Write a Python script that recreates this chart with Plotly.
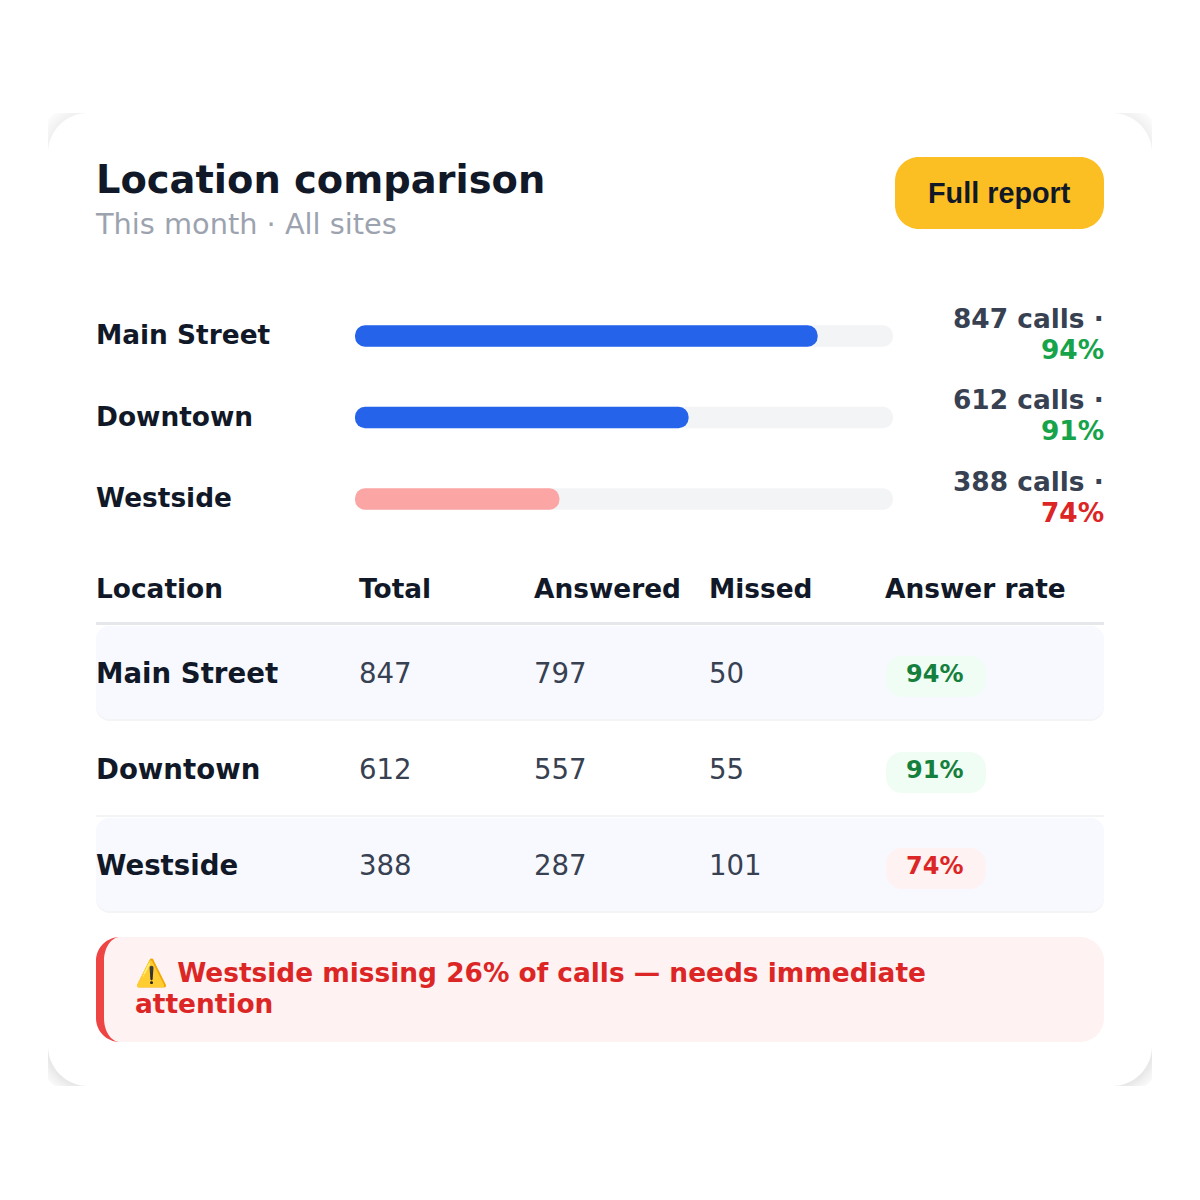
import math

import plotly.graph_objects as go

# data
locations = ['Main Street', 'Downtown', 'Westside']
totals = [847, 612, 388]
answered = [797, 557, 287]
missed = [50, 55, 101]
rates = [94, 91, 74]
bar_fill = [86, 62, 38]
track_fill = [100, 100, 100]
bar_base = [0, 0, 0]
headers = ['Location', 'Total', 'Answered', 'Missed', 'Answer rate']

title = 'Location comparison'
subtitle = 'This month · All sites'
button_label = 'Full report'
alert_lines = ['⚠️ Westside missing 26% of calls — needs immediate', 'attention']

# colours
INK = '#111827'
BODY = '#374151'
MUTED = '#9ca3af'
BLUE = '#2563eb'
PINK = '#fca5a5'
TRACK = '#f3f4f6'
AMBER = '#fbbf24'
GREEN = '#16a34a'
DARK_GREEN = '#15803d'
RED = '#dc2626'
ALERT_RED = '#ef4444'
PALE_GREEN = '#f0fdf4'
PALE_RED = '#fef2f2'
ROW_BG = '#f8f9ff'
LINE = '#e5e7eb'

SANS = 'DejaVu Sans'
BUTTON_FONT = 'Liberation Sans'

shapes = []
annotations = []


def rounded(x0, y0, x1, y1, r):
    # cubic corners, a quadratic one comes out visibly tighter than a css radius
    k = r * 0.4477
    return (f'M{x0 + r},{y0} L{x1 - r},{y0} C{x1 - k},{y0} {x1},{y0 + k} {x1},{y0 + r} '
            f'L{x1},{y1 - r} C{x1},{y1 - k} {x1 - k},{y1} {x1 - r},{y1} L{x0 + r},{y1} '
            f'C{x0 + k},{y1} {x0},{y1 - k} {x0},{y1 - r} L{x0},{y0 + r} '
            f'C{x0},{y0 + k} {x0 + k},{y0} {x0 + r},{y0} Z')


def add_path(path, color):
    shapes.append(dict(type='path', path=path, xref='x', yref='y',
                       fillcolor=color, line=dict(width=0), layer='below'))


def add_box(x0, y0, x1, y1, r, color):
    add_path(rounded(x0, y0, x1, y1, r), color)


def add_text(x, y, text, size, color, anchor='left', bold=False, family=SANS):
    annotations.append(dict(x=x, y=y, xref='x', yref='y', text=text, showarrow=False,
                            xanchor=anchor, yanchor='middle', borderpad=0, borderwidth=0,
                            font=dict(family=family, size=size, color=color,
                                      weight=700 if bold else 400)))


def corner_shadow(cx, cy, sx, sy, radius, colors):
    # shadow of the card clipped to its box, drawn as shrinking quarter discs
    steps = len(colors)
    for i, color in enumerate(colors):
        r = radius + 2 * (steps - i)
        pts = []
        for a in range(0, 91, 5):
            px = min(r * math.cos(math.radians(a)), radius)
            py = min(r * math.sin(math.radians(a)), radius)
            pts.append((cx + sx * px, cy + sy * py))
        path = f'M{cx},{cy} ' + ' '.join(f'L{p[0]:.1f},{p[1]:.1f}' for p in pts) + ' Z'
        add_path(path, color)


# card with the shadow showing only at its corners
CARD = (48, 113, 1152, 1086)
CARD_R = 40
top_shadow = ['#fbfbfb', '#f9f9f9', '#f7f7f7', '#f5f5f5', '#f3f3f3', '#f1f1f1']
bottom_shadow = ['#f8f8f8', '#f5f5f5', '#f2f2f2', '#efefef', '#ebebeb', '#e8e8e8']
corner_shadow(CARD[0] + CARD_R, CARD[1] + CARD_R, -1, -1, CARD_R, top_shadow)
corner_shadow(CARD[2] - CARD_R, CARD[1] + CARD_R, 1, -1, CARD_R, top_shadow)
corner_shadow(CARD[0] + CARD_R, CARD[3] - CARD_R, -1, 1, CARD_R, bottom_shadow)
corner_shadow(CARD[2] - CARD_R, CARD[3] - CARD_R, 1, 1, CARD_R, bottom_shadow)
add_box(CARD[0], CARD[1], CARD[2], CARD[3], CARD_R, '#ffffff')

# header
add_text(96, 179, title, 38.4, INK, bold=True)
add_text(95, 224, subtitle, 28.8, MUTED)
add_box(895, 157, 1104, 229, 24, AMBER)
add_text(999.5, 193, button_label, 28.8, INK, anchor='center', bold=True, family=BUTTON_FONT)

# labels around the progress bars
BAR_Y = [335.5, 417, 498.5]
for name, total, rate, y in zip(locations, totals, rates, BAR_Y):
    add_text(96, y - 1, name, 26.4, INK, bold=True)
    add_text(1104, y - 17.5, f'{total} calls ·', 26.4, BODY, anchor='right', bold=True)
    add_text(1104, y + 13.5, f'{rate}%', 26.4, GREEN if rate >= 90 else RED, anchor='right', bold=True)

# table
COL_X = [96, 359, 534, 709, 885]
for header, x in zip(headers, COL_X):
    add_text(x, 588.5, header, 26.4, INK, bold=True)
add_path('M96,622 L1104,622 L1104,625 L96,625 Z', LINE)

ROW_Y = [(626, 719), (722, 815), (818, 911)]
for i, (y0, y1) in enumerate(ROW_Y):
    if i % 2 == 0:
        add_box(96, y0, 1104, y1 + 2, 14, TRACK)
        add_box(96, y0, 1104, y1, 14, ROW_BG)
    else:
        add_path(f'M96,{y1} L1104,{y1} L1104,{y1 + 2} L96,{y1 + 2} Z', TRACK)
    mid = (y0 + y1) / 2
    add_text(COL_X[0], mid + 0.5, locations[i], 27.6, INK, bold=True)
    add_text(COL_X[1], mid + 0.5, str(totals[i]), 27.6, BODY)
    add_text(COL_X[2], mid + 0.5, str(answered[i]), 27.6, BODY)
    add_text(COL_X[3], mid + 0.5, str(missed[i]), 27.6, BODY)
    good = rates[i] >= 90
    add_box(886, mid + 4 - 20.5, 986, mid + 4 + 20.5, 16, PALE_GREEN if good else PALE_RED)
    add_text(934.5, mid + 1.5, f'{rates[i]}%', 24, DARK_GREEN if good else RED, anchor='center', bold=True)

# alert box with the curved left border
add_box(96, 937, 1104, 1042, 24, PALE_RED)
add_path('M120,937 C106.7,937 96,947.7 96,961 L96,1018 C96,1031.3 106.7,1042 120,1042 '
         'C111.2,1042 104,1031.3 104,1018 L104,961 C104,947.7 111.2,937 120,937 Z', ALERT_RED)
add_text(134.5, 972, alert_lines[0], 26.4, RED, bold=True)
add_text(134.5, 1003, alert_lines[1], 26.4, RED, bold=True)

fig = go.Figure()

# progress bars, on their own axes so the values go through the scale
fig.add_trace(go.Bar(y=locations, x=track_fill, base=bar_base, orientation='h', width=0.265,
                     marker=dict(color=TRACK, line=dict(width=0)),
                     xaxis='x2', yaxis='y2', hoverinfo='skip'))
fig.add_trace(go.Bar(y=locations, x=bar_fill, base=bar_base, orientation='h', width=0.265,
                     marker=dict(color=[BLUE, BLUE, PINK], line=dict(width=0)),
                     xaxis='x2', yaxis='y2', hoverinfo='skip'))

fig.update_layout(
    width=1200,
    height=1200,
    margin=dict(l=0, r=0, t=0, b=0),
    paper_bgcolor='#ffffff',
    plot_bgcolor='rgba(0,0,0,0)',
    showlegend=False,
    barmode='overlay',
    barcornerradius=11,
    shapes=shapes,
    annotations=annotations,
    xaxis=dict(range=[0, 1200], domain=[0, 1], visible=False, fixedrange=True),
    yaxis=dict(range=[1200, 0], domain=[0, 1], visible=False, fixedrange=True),
    xaxis2=dict(range=[0, 100], domain=[355 / 1200, 893 / 1200], anchor='y2',
                visible=False, fixedrange=True),
    yaxis2=dict(categoryorder='array', categoryarray=locations, autorange='reversed',
                domain=[1 - 539.75 / 1200, 1 - 295.25 / 1200], anchor='x2',
                visible=False, fixedrange=True),
)

fig.write_html('out.html', config=dict(displayModeBar=False),
               post_script="document.body.style.margin='0';document.body.style.overflow='hidden';")
